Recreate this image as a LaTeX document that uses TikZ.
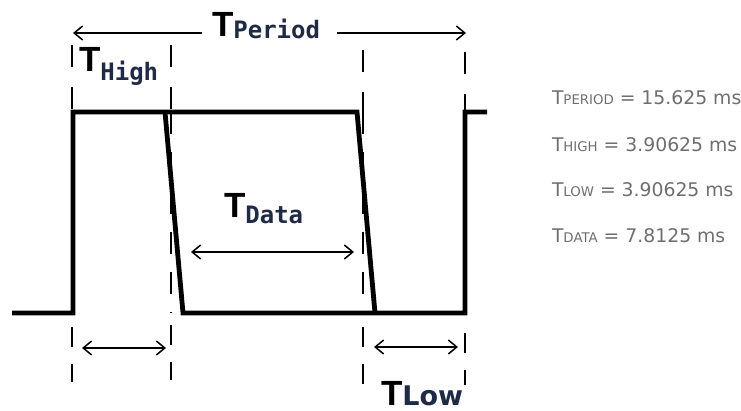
\documentclass[tikz,border=0pt]{standalone}
\usepackage{fontspec}
\setmainfont{DejaVu Sans}
\newfontfamily\bigTfont{Liberation Sans}
\newfontfamily\subfont{DejaVu Sans Mono}
\newfontfamily\lowfont{DejaVu Sans}
\newfontfamily\infofont{DejaVu Sans}
\usetikzlibrary{arrows.meta}
\definecolor{subnavy}{RGB}{30,42,72}
\definecolor{infogray}{RGB}{110,110,110}
\newcommand\BigT{{\bigTfont\bfseries\fontsize{35}{40}\selectfont T}}
\newcommand\SubMono[2]{\raisebox{-#1pt}{\subfont\bfseries\fontsize{24}{28}\selectfont\color{subnavy}#2}}
\newcommand\SmallUp[1]{{\fontsize{13.3}{15}\selectfont #1}}
\tikzset{
  wave/.style={line width=4.8pt, line join=miter},
  guide/.style={line width=1.6pt},
  topguide/.style={guide, dash pattern=on 22pt off 20pt},
  botguide/.style={guide, dash pattern=on 20pt off 17pt},
  barb/.tip={Straight Barb[length=8.5pt,width=14pt]},
  dimarrow/.style={line width=1.5pt, barb-barb},
  leftarrow/.style={line width=1.5pt, barb-},
  rightarrow/.style={line width=1.5pt, -barb},
  lbl/.style={anchor=base west, inner sep=0pt, outer sep=0pt},
  info/.style={anchor=base west, inner sep=0pt, outer sep=0pt, text=infogray, font=\infofont\fontsize{18.8}{22}\selectfont}
}
\begin{document}
\begin{tikzpicture}[x=1pt,y=-1pt]
\useasboundingbox (0,0) rectangle (741,411);
% guide line coordinates
\coordinate (g1t) at (72,45);   \coordinate (g1m) at (72,112);  \coordinate (g1b) at (72,313);  \coordinate (g1s) at (72,327);  \coordinate (g1e) at (72,382);
\coordinate (g2t) at (171,45);  \coordinate (g2m) at (171,112); \coordinate (g2b) at (171,313); \coordinate (g2s) at (171,325); \coordinate (g2e) at (171,380);
\coordinate (g3t) at (363,50);  \coordinate (g3m) at (363,112); \coordinate (g3b) at (363,313); \coordinate (g3s) at (363,327); \coordinate (g3e) at (363,386);
\coordinate (g4t) at (465,52);  \coordinate (g4m) at (465,112); \coordinate (g4b) at (465,313); \coordinate (g4s) at (465,333); \coordinate (g4e) at (465,385);
% guides
\draw[topguide] (g1t) -- (g1m);
\draw[topguide] (g2t) -- (g2m);
\draw[topguide] (g3t) -- (g3m);
\draw[topguide] (g4t) -- (g4m);
\draw[guide, dash pattern=on 22pt off 18pt] (g2m) -- (g2b);
\draw[guide, dash pattern=on 22pt off 18pt] (g3m) -- (g3b);
\draw[botguide] (g1s) -- (g1e);
\draw[botguide] (g2s) -- (g2e);
\draw[botguide] (g3s) -- (g3e);
\draw[botguide] (g4s) -- (g4e);
% waveform
\coordinate (w0) at (12,313);
\coordinate (w1) at (73,313);
\coordinate (w2) at (73,112);
\coordinate (w3) at (357,112);
\coordinate (w4) at (375,313);
\coordinate (v0) at (165,112);
\coordinate (v1) at (183,313);
\coordinate (v2) at (465,313);
\coordinate (v3) at (465,112);
\coordinate (v4) at (487,112);
\draw[wave] (w0) -- (w1) -- (w2) -- (w3) -- (w4);
\draw[wave] (v0) -- (v1) -- (v2) -- (v3) -- (v4);
% labels
\node[lbl] (tper) at (212,37) {\BigT\SubMono{2}{Period}};
\node[lbl] (thigh) at (79,72) {\BigT\SubMono{9}{High}};
\node[lbl] (tdata) at (224,218) {\BigT\SubMono{6}{Data}};
\node[lbl] (tlow) at (381,405) {\BigT{\lowfont\bfseries\fontsize{27}{30}\selectfont\color{subnavy}Low}};
% dimension arrows
\coordinate (pl) at (73,33);  \coordinate (plin) at (202,33);
\coordinate (pr) at (466,33); \coordinate (prin) at (337,33);
\draw[leftarrow] (pl) -- (plin);
\draw[rightarrow] (prin) -- (pr);
\coordinate (hl) at (82,348);  \coordinate (hr) at (166,348);
\draw[dimarrow] (hl) -- (hr);
\coordinate (dl) at (191,252); \coordinate (dr) at (354,252);
\draw[dimarrow] (dl) -- (dr);
\coordinate (ll) at (374,347); \coordinate (lr) at (458,347);
\draw[dimarrow] (ll) -- (lr);
% info text
\node[info] (iper) at (552,105) {T\SmallUp{PERIOD} = 15.625 ms};
\node[info] (ihigh) at (552,152) {T\SmallUp{HIGH} = 3.90625 ms};
\node[info] (ilow) at (552,197) {T\SmallUp{LOW} = 3.90625 ms};
\node[info] (idata) at (552,243) {T\SmallUp{DATA} = 7.8125 ms};
\end{tikzpicture}
\end{document}
